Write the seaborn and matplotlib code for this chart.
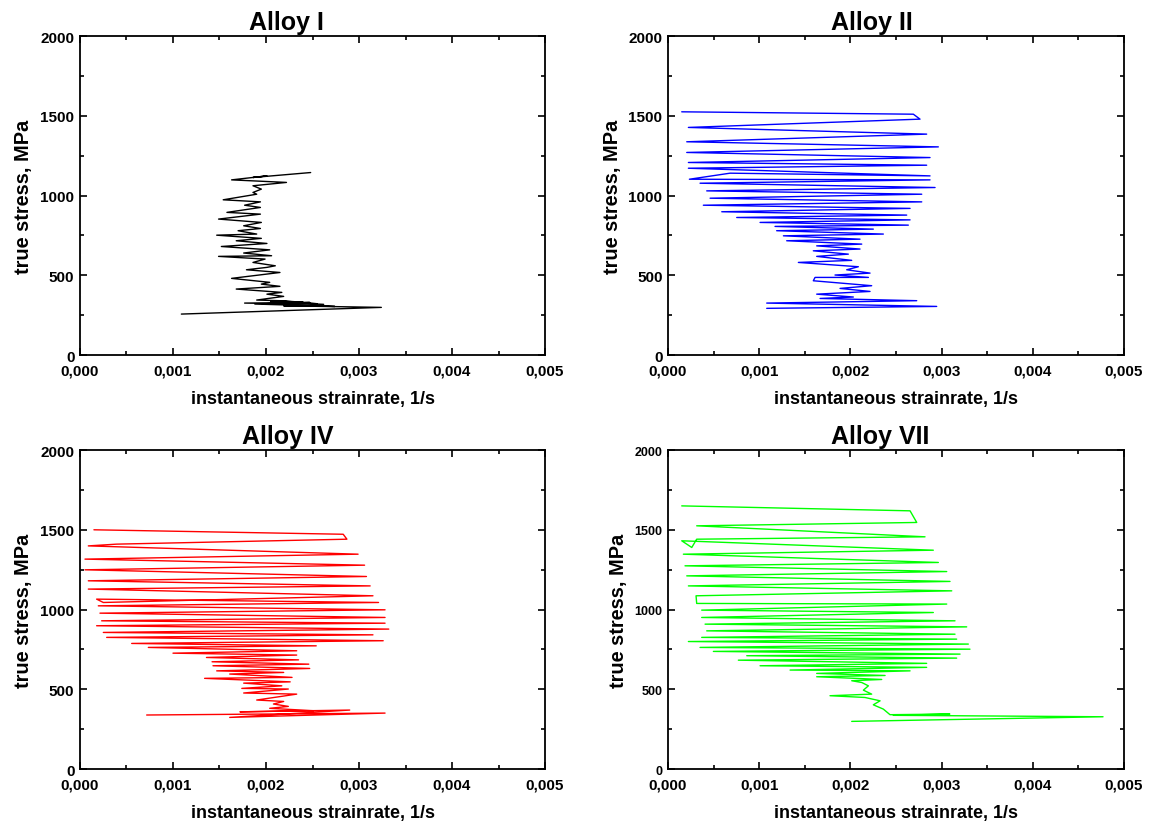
import matplotlib

matplotlib.use("Agg")
import matplotlib.pyplot as plt
import numpy as np
import pandas as pd
import seaborn as sns
from matplotlib.ticker import FuncFormatter, MultipleLocator

# strain rate (1/s) and true stress (MPa) traces
alloy1_rate = [
    0.00109, 0.00324, 0.00219, 0.00274, 0.00188, 0.00247, 0.00177, 0.00262, 0.00205, 0.00255,
    0.00210, 0.00240, 0.00215, 0.00190, 0.00219, 0.00201, 0.00217, 0.00168, 0.00215, 0.00195,
    0.00204, 0.00163, 0.00215, 0.00179, 0.00201, 0.00210, 0.00186, 0.00199, 0.00149, 0.00206,
    0.00176, 0.00204, 0.00152, 0.00201, 0.00168, 0.00195, 0.00147, 0.00190, 0.00170, 0.00194,
    0.00176, 0.00195, 0.00149, 0.00194, 0.00158, 0.00194, 0.00177, 0.00194, 0.00154, 0.00190,
    0.00186, 0.00195, 0.00186, 0.00222, 0.00163, 0.00201, 0.00186, 0.00248,
]
alloy1_stress = [
    257, 299, 309, 305, 320, 330, 326, 318, 334, 322,
    340, 331, 341, 345, 368, 382, 393, 414, 431, 445,
    456, 481, 518, 535, 550, 560, 581, 602, 619, 623,
    640, 660, 681, 700, 717, 732, 752, 759, 780, 794,
    811, 832, 853, 884, 895, 926, 940, 961, 974, 1009,
    1020, 1041, 1062, 1083, 1099, 1124, 1114, 1145,
]

alloy2_rate = [
    0.001082, 0.002946, 0.001082, 0.002727, 0.001667, 0.002032, 0.001630, 0.002215, 0.001886, 0.002233,
    0.001593, 0.001612, 0.002197, 0.001831, 0.002215, 0.001959, 0.002087, 0.001429, 0.002014, 0.001630,
    0.001977, 0.001593, 0.002105, 0.001630, 0.002124, 0.001301, 0.002105, 0.001265, 0.002361, 0.001191,
    0.002251, 0.001173, 0.002635, 0.001009, 0.002654, 0.000753, 0.002617, 0.000589, 0.002654, 0.000387,
    0.002782, 0.000461, 0.002782, 0.000424, 0.002928, 0.000351, 0.002873, 0.000234, 0.000680, 0.002873,
    0.000223, 0.002836, 0.000223, 0.002873, 0.000205, 0.002964, 0.000205, 0.002836, 0.000223, 0.002763,
    0.002690, 0.000150,
]
alloy2_stress = [
    293, 305, 326, 341, 355, 364, 382, 399, 418, 435,
    466, 487, 487, 502, 514, 535, 554, 581, 594, 619,
    633, 654, 665, 685, 696, 717, 727, 748, 759, 780,
    790, 807, 815, 832, 848, 863, 878, 899, 920, 940,
    961, 984, 1009, 1030, 1051, 1078, 1099, 1103, 1141, 1124,
    1172, 1191, 1208, 1239, 1271, 1306, 1338, 1386, 1428, 1480,
    1511, 1526,
]

alloy4_rate = [
    0.000717, 0.00328, 0.00161, 0.00290, 0.00172, 0.00251, 0.00204, 0.00224, 0.00208, 0.00219,
    0.00190, 0.00233, 0.00176, 0.00224, 0.00174, 0.00217, 0.00176, 0.00226, 0.00134, 0.00228,
    0.00161, 0.00219, 0.00147, 0.00247, 0.00143, 0.00246, 0.00142, 0.00235, 0.00136, 0.00233,
    0.00100, 0.00233, 0.000735, 0.00254, 0.000556, 0.00326, 0.000287, 0.00315, 0.000251, 0.00332,
    0.000179, 0.00328, 0.000233, 0.00328, 0.000215, 0.00328, 0.000197, 0.00321, 0.000179, 0.000251,
    0.00315, 0.0000896, 0.00312, 0.0000896, 0.00308, 0.0000538, 0.00306, 0.0000538, 0.00299, 0.0000896,
    0.000394, 0.00287, 0.00283, 0.00015,
]
alloy4_stress = [
    339, 351, 324, 370, 359, 366, 381, 393, 408, 424,
    433, 470, 477, 502, 506, 522, 539, 547, 569, 575,
    596, 606, 616, 631, 648, 658, 673, 685, 700, 715,
    727, 742, 763, 773, 788, 805, 826, 842, 857, 878,
    899, 915, 930, 951, 978, 999, 1024, 1045, 1066, 1045,
    1087, 1129, 1149, 1181, 1208, 1250, 1279, 1317, 1348, 1400,
    1411, 1442, 1473, 1501,
]

alloy7_rate = [
    0.002014, 0.00477, 0.00247, 0.00309, 0.002434, 0.002361, 0.002251, 0.002325, 0.002160, 0.001776,
    0.002233, 0.002142, 0.002197, 0.002124, 0.002014, 0.002343, 0.001630, 0.002380, 0.001630, 0.002654,
    0.001338, 0.002836, 0.001009, 0.002836, 0.000771, 0.003165, 0.000863, 0.003202, 0.000497, 0.003311,
    0.000351, 0.003293, 0.000223, 0.003165, 0.000369, 0.003147, 0.000424, 0.003275, 0.000406, 0.003147,
    0.000369, 0.002909, 0.000369, 0.003056, 0.000314, 0.000307, 0.003111, 0.000223, 0.003092, 0.000205,
    0.003056, 0.000186, 0.002964, 0.000168, 0.002909, 0.000150, 0.000260, 0.000314, 0.002818, 0.000314,
    0.002727, 0.002654, 0.000150,
]
alloy7_stress = [
    299, 328, 337, 345, 341, 376, 403, 428, 449, 460,
    470, 495, 522, 543, 554, 562, 579, 587, 600, 616,
    621, 638, 648, 663, 683, 696, 711, 721, 738, 752,
    763, 784, 800, 815, 826, 846, 867, 892, 909, 930,
    951, 982, 997, 1035, 1039, 1087, 1118, 1149, 1177, 1212,
    1239, 1275, 1296, 1348, 1373, 1432, 1390, 1442, 1457, 1526,
    1547, 1620, 1651,
]

panel_titles = ["Alloy I", "Alloy II", "Alloy IV", "Alloy VII"]
panel_colors = ["#000000", "#0000ff", "#ff0000", "#00ff00"]
panel_rates = [alloy1_rate, alloy2_rate, alloy4_rate, alloy7_rate]
panel_stresses = [alloy1_stress, alloy2_stress, alloy4_stress, alloy7_stress]

sns.set_theme(style="ticks")
plt.rcParams["font.family"] = ["Liberation Sans", "DejaVu Sans"]
plt.rcParams.update({
    "text.color": "black",
    "axes.labelcolor": "black",
    "xtick.color": "black",
    "ytick.color": "black",
    "axes.edgecolor": "black",
})

fig = plt.figure(figsize=(11.54, 8.28), dpi=100)
axes_boxes = [
    (0.0693, 0.570, 0.403, 0.385),
    (0.5789, 0.570, 0.3951, 0.385),
    (0.0693, 0.070, 0.403, 0.385),
    (0.5789, 0.070, 0.3951, 0.385),
]
title_x = [0.443, 0.447, 0.447, 0.465]

comma_fmt = FuncFormatter(lambda v, pos: f"{v:.3f}".replace(".", ","))

for i, box in enumerate(axes_boxes):
    ax = fig.add_axes(box)
    df = pd.DataFrame({"rate": panel_rates[i], "stress": panel_stresses[i]})
    df["step"] = np.arange(len(df))
    sns.lineplot(
        data=df, x="rate", y="stress", sort=False, estimator=None,
        color=panel_colors[i], linewidth=1.0, ax=ax,
    )
    ax.set_xlim(0, 0.005)
    ax.set_ylim(0, 2000)
    ax.xaxis.set_major_locator(MultipleLocator(0.001))
    ax.xaxis.set_minor_locator(MultipleLocator(0.0005))
    ax.yaxis.set_major_locator(MultipleLocator(500))
    ax.yaxis.set_minor_locator(MultipleLocator(250))
    ax.xaxis.set_major_formatter(comma_fmt)
    ax.tick_params(which="both", direction="in", top=True, right=True, width=1.2, color="black")
    ax.tick_params(which="major", length=5)
    ax.tick_params(which="minor", length=3)
    ax.tick_params(axis="x", labelsize=11, pad=6)
    ax.tick_params(axis="y", labelsize=9 if i == 3 else 11, pad=4)
    for label in ax.get_xticklabels() + ax.get_yticklabels():
        label.set_fontweight("bold")
    for spine in ax.spines.values():
        spine.set_linewidth(1.3)
        spine.set_color("black")
        spine.set_visible(True)
    ax.set_xlabel("instantaneous strainrate, 1/s", fontsize=13, fontweight="bold", labelpad=9)
    ax.set_ylabel("true stress, MPa", fontsize=14.4, fontweight="bold", labelpad=5)
    ax.set_title(panel_titles[i], fontsize=18, fontweight="bold", x=title_x[i], pad=5)

fig.savefig("out.png", dpi=100, facecolor="white")
